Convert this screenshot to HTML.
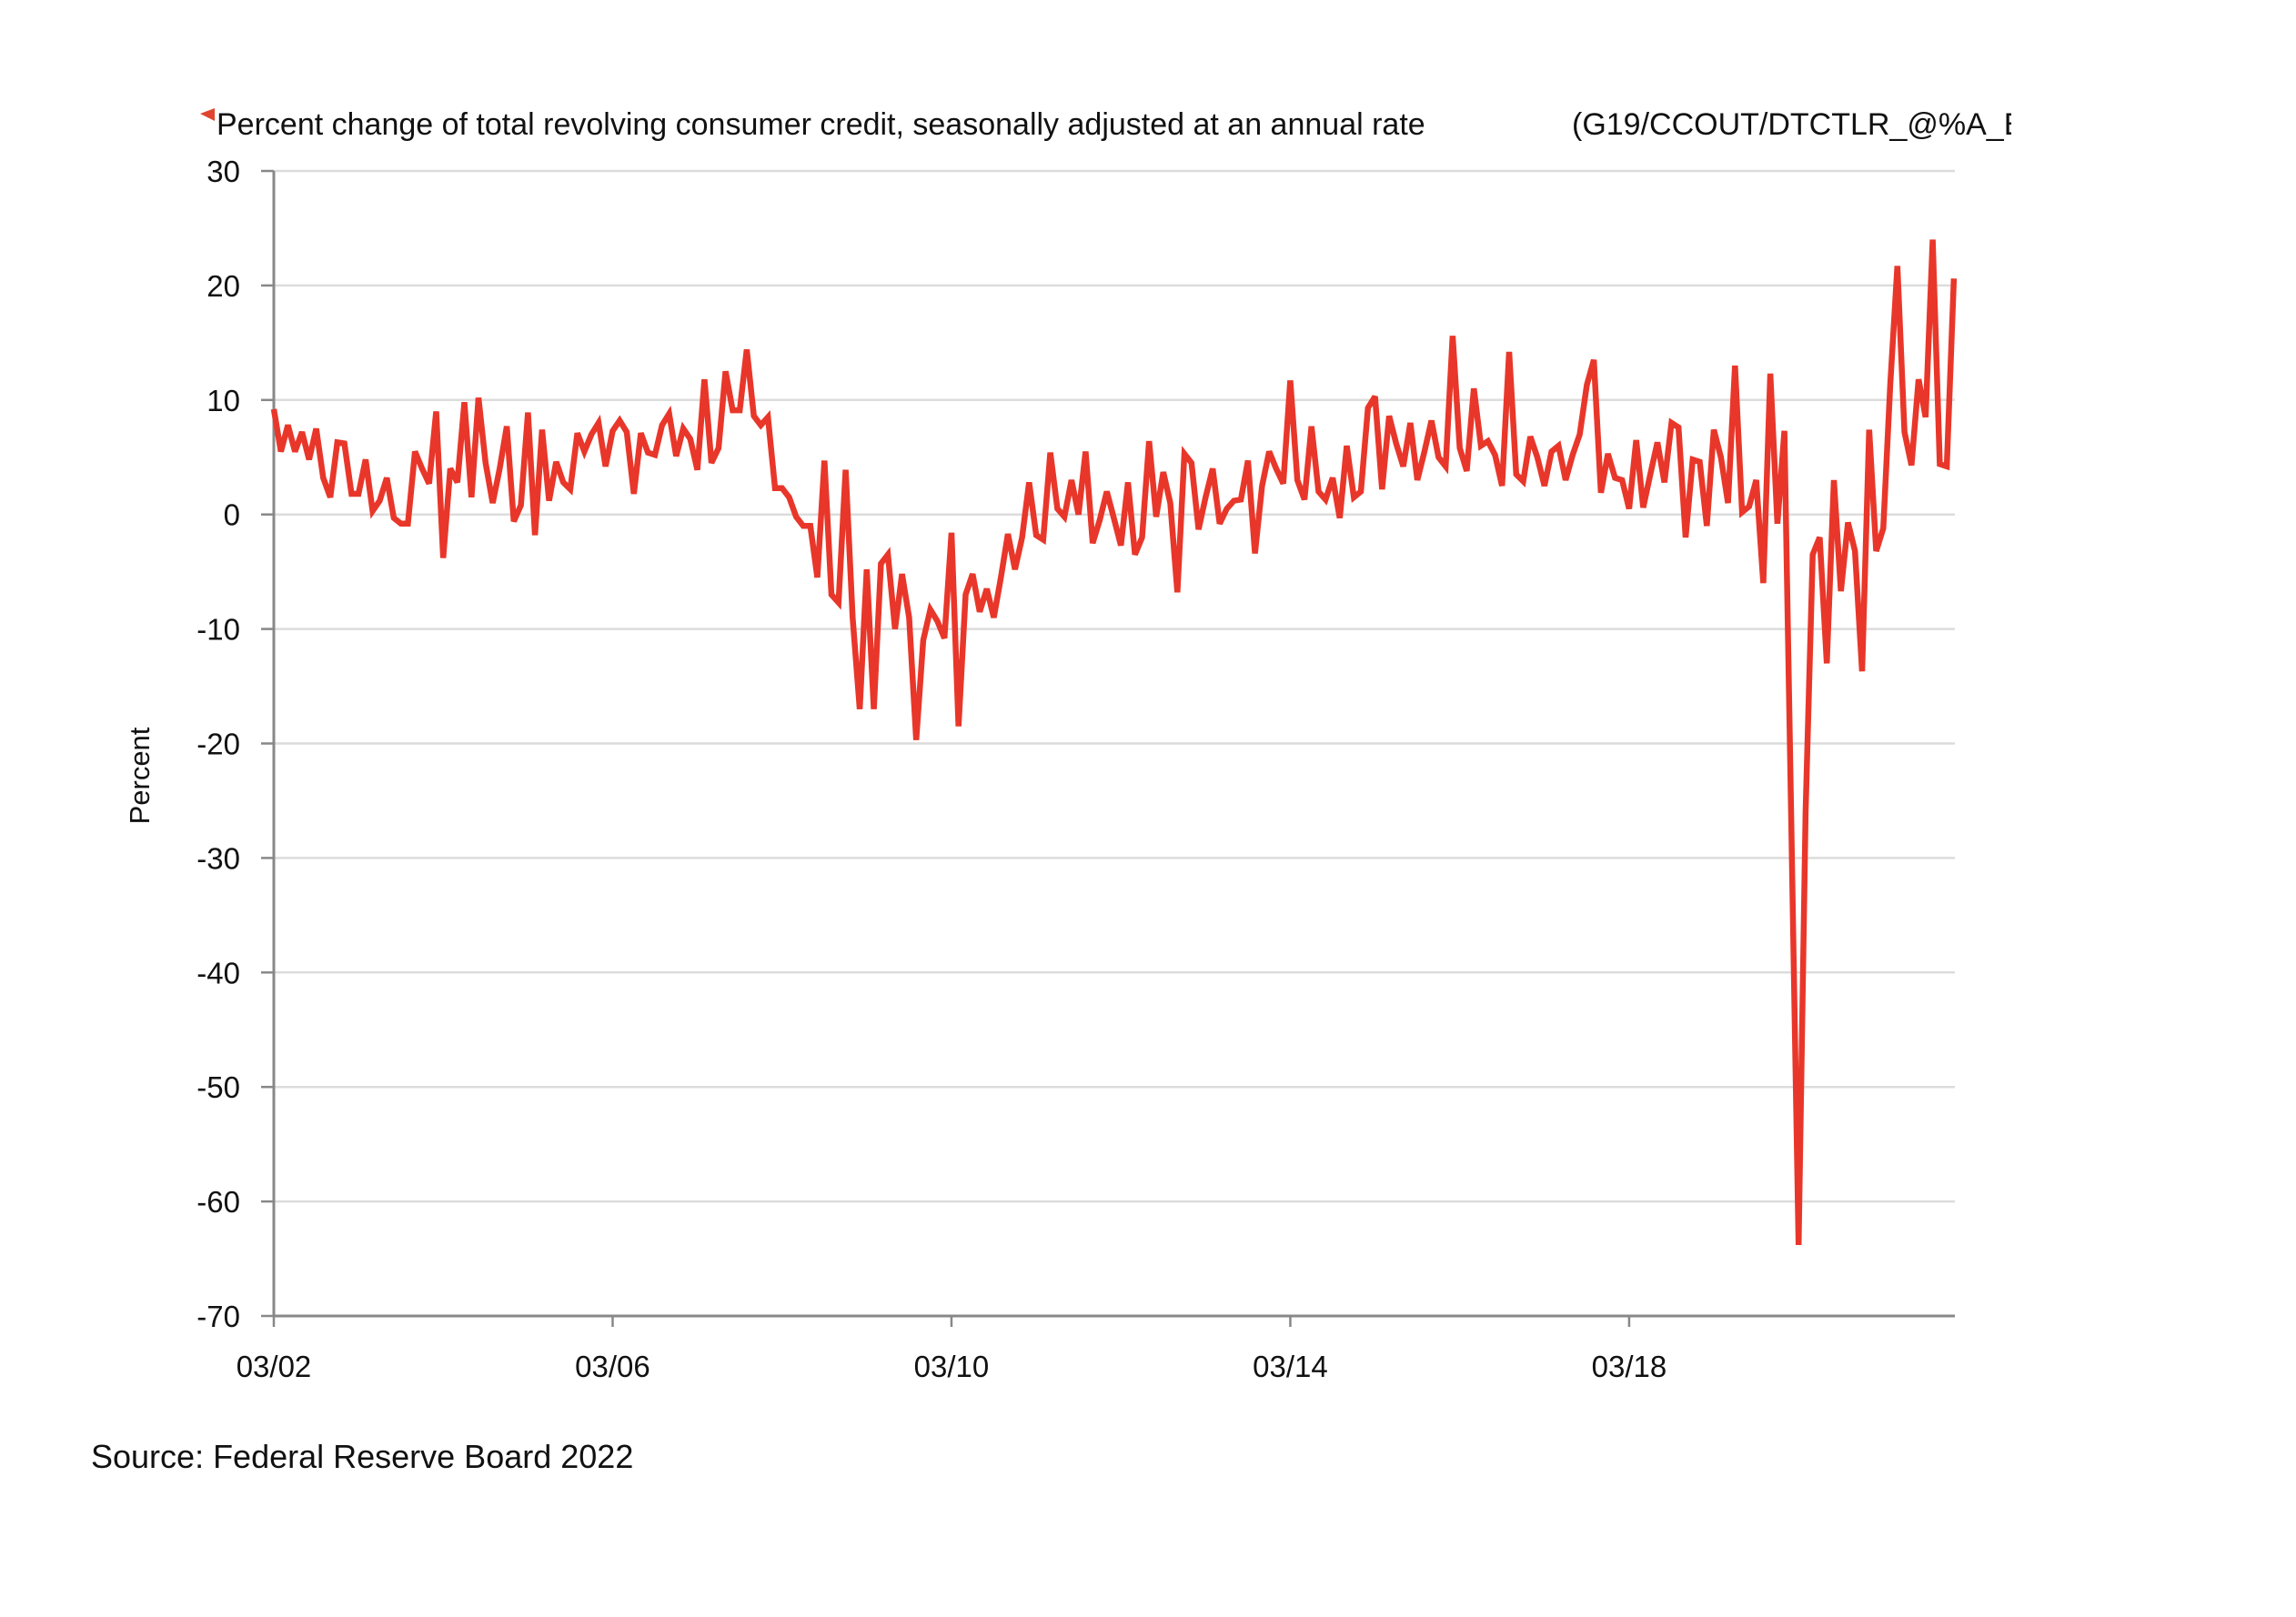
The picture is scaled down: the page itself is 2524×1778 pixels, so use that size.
<!DOCTYPE html>
<html><head><meta charset="utf-8"><style>
html,body{margin:0;padding:0;background:#fff;}
svg{display:block;font-family:"Liberation Sans",sans-serif;}
</style></head><body>
<svg width="2524" height="1778" viewBox="0 0 2524 1778" xmlns="http://www.w3.org/2000/svg">
<polygon points="220,125 236,119 236,133" fill="#e0442e"/>
<text x="238" y="148" font-size="34" fill="#111">Percent change of total revolving consumer credit, seasonally adjusted at an annual rate</text>
<svg x="0" y="100" width="2211" height="70" overflow="hidden"><text x="1728" y="48" font-size="34" fill="#111">(G19/CCOUT/DTCTLR_@%A_BA</text></svg>
<g id="grid"></g><g id="axes"></g><g id="line"></g>
<text transform="translate(164,853) rotate(-90)" text-anchor="middle" font-size="31" fill="#111">Percent</text>
<text x="100" y="1614" font-size="36" fill="#111">Source: Federal Reserve Board 2022</text>
</svg>
<script>
const yTicks=[30,20,10,0,-10,-20,-30,-40,-50,-60,-70];
const xTickLabels=["03/02","03/06","03/10","03/14","03/18"];
const xTickMonths=[0,48,96,144,192];
const values=[9.2,5.5,7.8,5.5,7.2,4.8,7.5,3.2,1.5,
6.3,6.2,1.8,1.8,4.8,0.3,1.2,3.2,-0.3,-0.8,
-0.8,5.5,4,2.7,9,-3.8,4,2.8,9.8,1.5,
10.2,4.5,1,4,7.7,-0.6,0.8,8.9,-1.8,7.4,
1.2,4.6,2.8,2.2,7.1,5.5,7,8,4.2,7.3,
8.2,7.2,1.8,7.1,5.4,5.2,7.8,8.8,5.1,7.5,
6.6,3.9,11.8,4.5,5.8,12.5,9.1,9.1,14.4,8.6,
7.8,8.5,2.3,2.3,1.5,-0.2,-1,-1,-5.5,4.7,
-7,-7.7,3.9,-9,-17,-4.8,-17,-4.3,-3.5,-10,
-5.2,-9,-19.7,-11,-8.3,-9.3,-10.8,-1.6,-18.5,
-7,-5.2,-8.5,-6.5,-9,-5.5,-1.7,-4.8,-2,2.8,-1.8,-2.2,5.4,0.5,-0.2,3,0,5.5,-2.5,-0.5,2,-0.3,-2.7,2.8,-3.5,-2,6.4,-0.2,3.7,1,-6.8,5.3,4.5,-1.3,1.5,4,-0.8,0.5,1.2,1.3,4.7,-3.4,2.5,5.5,4,2.7,11.7,3,1.3,7.7,2,1.3,3.2,-0.3,6,1.5,2,9.3,10.3,2.2,8.6,6.2,4.2,8,3,5.5,8.2,5,4.2,15.6,5.8,3.8,11,6,6.4,5.2,2.5,14.2,3.5,2.9,6.8,5,2.5,5.5,6,3,5.2,7,11.3,13.5,1.9,5.3,3.2,3,0.5,6.5,0.6,3.5,6.3,2.8,8,7.6,-2,4.8,4.6,-1,7.4,5,1,13,0.2,0.7,3,-6,12.3,-0.8,7.3,
-28,-63.8,-26,-3.5,-2,-13,3,-6.7,-0.7,-3.2,-13.7,7.4,-3.2,-1.2,11.4,21.7,7.2,4.3,11.8,8.5,24,4.4,4.2,20.6];
const X0=301,X1=2149,MONTH=7.76,YT=188,YB=1447,YMAX=30,YMIN=-70;
const xs=m=>X0+m*MONTH;
const ys=v=>YT+(YMAX-v)/(YMAX-YMIN)*(YB-YT);
const NS="http://www.w3.org/2000/svg";
function mk(tag,attrs,parent){const e=document.createElementNS(NS,tag);for(const k in attrs)e.setAttribute(k,attrs[k]);parent.appendChild(e);return e;}
const grid=document.getElementById('grid'),axes=document.getElementById('axes'),lineG=document.getElementById('line');
yTicks.forEach(t=>{
  if(t!==YMIN){const g=mk('line',{x1:X0,x2:X1,y1:ys(t),y2:ys(t),stroke:'#dcdcdc','stroke-width':2.5},grid);
  
  }
  const tk=mk('line',{x1:X0-14,x2:X0,y1:ys(t),y2:ys(t),stroke:'#888','stroke-width':2.5},axes);
  
  
  const lb=mk('text',{x:264,y:ys(t)+12,'text-anchor':'end','font-size':33,fill:'#111'},axes);
  lb.textContent=t;
  
  
});
const ya=mk('line',{x1:X0,x2:X0,y1:YT,y2:YB,stroke:'#888','stroke-width':3},axes);


const xa=mk('line',{x1:X0,x2:X1,y1:YB,y2:YB,stroke:'#888','stroke-width':3},axes);


xTickMonths.forEach((m,i)=>{
  const tk=mk('line',{x1:xs(m),x2:xs(m),y1:YB,y2:YB+12,stroke:'#888','stroke-width':2.5},axes);
  
  
  const lb=mk('text',{x:xs(m),y:1514,'text-anchor':'middle','font-size':33,fill:'#111'},axes);
  lb.textContent=xTickLabels[i];
  
  
});
const pts=values.map((v,i)=>xs(i).toFixed(1)+','+ys(v).toFixed(1)).join(' ');
const pl=mk('polyline',{points:pts,fill:'none',stroke:'#e8372a','stroke-width':6.5,'stroke-linejoin':'miter','stroke-miterlimit':3},lineG);


</script>
</body></html>
